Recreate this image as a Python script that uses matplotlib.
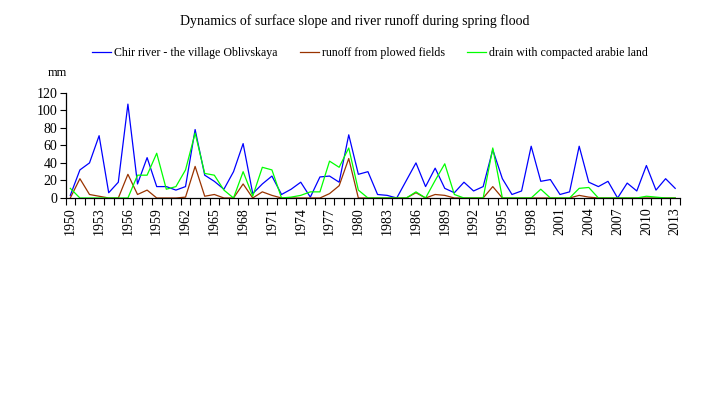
import numpy as np
import matplotlib
matplotlib.use("Agg")
import matplotlib.pyplot as plt
from matplotlib.ticker import FixedLocator, NullFormatter

years = list(range(1950, 2014))

chir_river = [3, 32, 40, 71, 6, 18, 107, 16, 46, 13,
              13, 9, 13, 78, 26, 19, 10, 30, 62, 5,
              16, 25, 4, 10, 18, 1, 24, 25, 18, 72,
              27, 30, 4, 3, 0, 20, 40, 13, 34, 11,
              6, 18, 8, 13, 55, 22, 4, 8, 59, 19,
              21, 4, 7, 59, 18, 13, 19, 0, 17, 8,
              37, 9, 22, 11]

plowed_fields = [0, 22, 4, 2, 0, 0, 27, 4, 9, 0,
                 0, 0, 1, 36, 2, 4, 0, 0, 16, 0,
                 7, 3, 0, 0, 0, 0, 0, 5, 14, 45,
                 0, 0, 0, 0, 0, 0, 6, 0, 4, 3,
                 0, 0, 0, 0, 13, 0, 0, 0, 0, 0,
                 0, 0, 0, 3, 1, 0, 0, 0, 0, 0,
                 0, 0, 0, 0]

compacted_land = [11, 0, 0, 0, 0, 0, 0, 26, 26, 51,
                  10, 13, 32, 74, 28, 26, 9, 0, 30, 2,
                  35, 32, 0, 1, 3, 7, 7, 42, 35, 57,
                  9, 0, 0, 0, 0, 0, 7, 0, 20, 39,
                  4, 0, 0, 0, 57, 0, 0, 0, 0, 10,
                  0, 0, 0, 11, 12, 0, 0, 0, 0, 0,
                  2, 1, 0, 0]

labels = ["Chir river - the village Oblivskaya",
          "runoff from plowed fields",
          "drain with compacted arabie land"]
colors = ["#0000FF", "#993300", "#00FF00"]

plt.rcParams["font.family"] = ["Liberation Serif", "DejaVu Serif"]

W, H = 725, 393
fig = plt.figure(figsize=(W / 100, H / 100), dpi=100)
left, right, bottom, top = 65.5, 680, 198, 92.7
ax = fig.add_axes([left / W, 1 - bottom / H, (right - left) / W, (bottom - top) / H])

x = np.arange(len(years))
lines = []
for vals, col in zip([chir_river, plowed_fields, compacted_land], colors):
    ln, = ax.plot(x, vals, color=col, lw=0.9, clip_on=False)
    lines.append(ln)

ax.set_xlim(-0.5, len(years) - 0.5)
ax.set_ylim(0, 120)
ax.set_yticks(range(0, 121, 20))
ax.tick_params(axis="y", direction="out", length=4, width=0.8, labelsize=10, pad=2)

# ticks between categories, labels every third year at the category centre
ax.xaxis.set_major_locator(FixedLocator(np.arange(-0.5, len(years), 1)))
ax.xaxis.set_major_formatter(NullFormatter())
ax.xaxis.set_minor_locator(FixedLocator(x[::3]))
ax.set_xticklabels([str(y) for y in years[::3]], minor=True, rotation=90, fontsize=10)
ax.tick_params(axis="x", which="major", direction="out", length=5, width=0.8)
ax.tick_params(axis="x", which="minor", length=0, pad=6.5)

for s in ["top", "right"]:
    ax.spines[s].set_visible(False)
for s in ["left", "bottom"]:
    ax.spines[s].set_linewidth(0.9)

fig.text(355 / W, 1 - 21 / H, "Dynamics of surface slope and river runoff during spring flood",
         ha="center", va="center", fontsize=10)
fig.text(57 / W, 1 - 73 / H, "mm", ha="center", va="center", fontsize=9)

fig.legend(lines, labels, loc="center", bbox_to_anchor=(370 / W, 1 - 53 / H), ncol=3,
           frameon=False, fontsize=8.6, handlelength=1.6, handletextpad=0.2,
           columnspacing=1.9)

fig.savefig("out.png", dpi=100)
